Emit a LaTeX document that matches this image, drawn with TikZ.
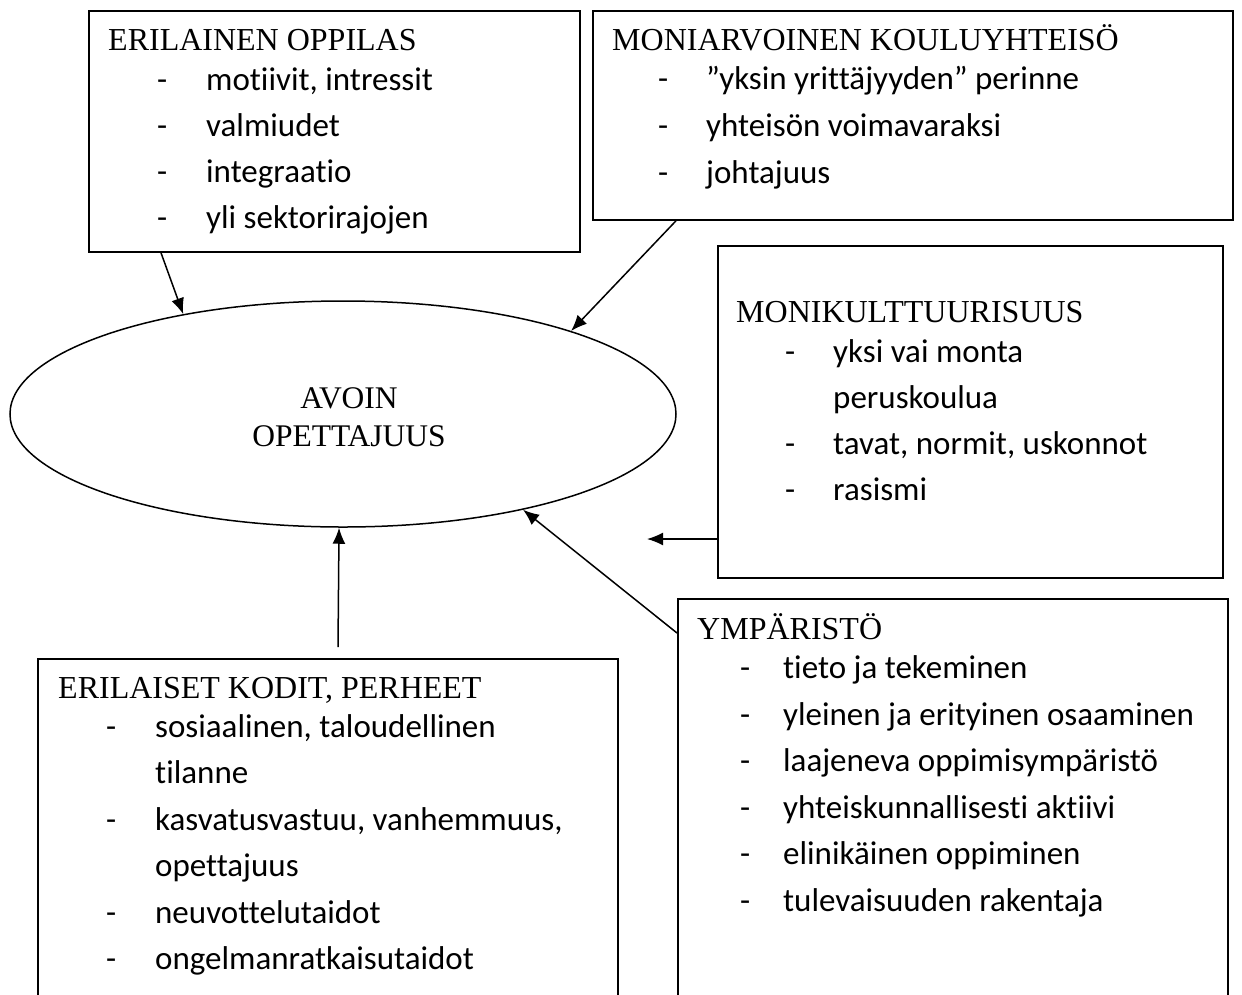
\documentclass[tikz,border=0pt]{standalone}
\usepackage{fontspec}
\setmainfont{Liberation Serif}
\newfontfamily\carlfont[Ligatures={NoCommon,NoRequired,NoContextual}]{Carlito}
\usetikzlibrary{shapes.geometric,arrows.meta,calc}
\begin{document}
\begin{tikzpicture}[x=1pt,y=-1pt,
  box/.style={draw, line width=1.8pt, inner sep=0pt, anchor=north west},
  ttl/.style={anchor=base west, inner sep=0pt, font=\fontsize{32}{38}\selectfont},
  ctl/.style={anchor=base, inner sep=0pt, font=\fontsize{31.5}{38}\selectfont},
  itm/.style={anchor=base west, inner sep=0pt, font=\carlfont\fontsize{33}{46}\selectfont},
  arr/.style={line width=1.5pt, -{Latex[length=16pt,width=13pt]}}]
\useasboundingbox (0,0) rectangle (1242,994);
\clip (0,0) rectangle (1242,994);
\fill[white] (0,0) rectangle (1242,994);

% boxes
\node[box, minimum width=491pt, minimum height=241pt] (b1) at (88,10) {};
\node[box, minimum width=640pt, minimum height=209pt] (b2) at (592,10) {};
\node[box, minimum width=505pt, minimum height=332pt] (b3) at (717,245) {};
\node[box, minimum width=580pt, minimum height=420pt] (b4) at (37,658) {};
\node[box, minimum width=550pt, minimum height=460pt] (b5) at (677,598) {};

% ellipse
\node[ellipse, draw, line width=1.5pt, inner sep=0pt, minimum width=666pt, minimum height=226pt] (ell) at (343,414) {};
\node[ctl] (e1) at (349,408) {AVOIN};
\node[ctl] (e2) at (349,446) {OPETTAJUUS};

% box 1
\node[ttl] (t1) at (108,50) {ERILAINEN OPPILAS};
\node[itm] (i1a) at (157,90) {\makebox[49pt][l]{-}motiivit, intressit};
\node[itm] (i1b) at (157,136) {\makebox[49pt][l]{-}valmiudet};
\node[itm] (i1c) at (157,182) {\makebox[49pt][l]{-}integraatio};
\node[itm] (i1d) at (157,228) {\makebox[49pt][l]{-}yli sektorirajojen};

% box 2
\node[ttl] (t2) at (612,50) {MONIARVOINEN KOULUYHTEISÖ};
\node[itm] (i2a) at (658,89) {\makebox[48pt][l]{-}”yksin yrittäjyyden” perinne};
\node[itm] (i2b) at (658,136) {\makebox[48pt][l]{-}yhteisön voimavaraksi};
\node[itm] (i2c) at (658,183) {\makebox[48pt][l]{-}johtajuus};

% box 3
\node[ttl] (t3) at (736,322) {MONIKULTTUURISUUS};
\node[itm] (i3a) at (785,362) {\makebox[48pt][l]{-}yksi vai monta};
\node[itm] (i3b) at (833,408) {peruskoulua};
\node[itm] (i3c) at (785,454) {\makebox[48pt][l]{-}tavat, normit, uskonnot};
\node[itm] (i3d) at (785,500) {\makebox[48pt][l]{-}rasismi};

% box 4
\node[ttl] (t4) at (58,698) {ERILAISET KODIT, PERHEET};
\node[itm] (i4a) at (106,737) {\makebox[49pt][l]{-}sosiaalinen, taloudellinen};
\node[itm] (i4b) at (155,783) {tilanne};
\node[itm] (i4c) at (106,830) {\makebox[49pt][l]{-}kasvatusvastuu, vanhemmuus,};
\node[itm] (i4d) at (155,876) {opettajuus};
\node[itm] (i4e) at (106,923) {\makebox[49pt][l]{-}neuvottelutaidot};
\node[itm] (i4f) at (106,969) {\makebox[49pt][l]{-}ongelmanratkaisutaidot};

% box 5
\node[ttl] (t5) at (697,639) {YMPÄRISTÖ};
\node[itm] (i5a) at (740,678) {\makebox[43pt][l]{-}tieto ja tekeminen};
\node[itm] (i5b) at (740,725) {\makebox[43pt][l]{-}yleinen ja erityinen osaaminen};
\node[itm] (i5c) at (740,771) {\makebox[43pt][l]{-}laajeneva oppimisympäristö};
\node[itm] (i5d) at (740,818) {\makebox[43pt][l]{-}yhteiskunnallisesti aktiivi};
\node[itm] (i5e) at (740,864) {\makebox[43pt][l]{-}elinikäinen oppiminen};
\node[itm] (i5f) at (740,911) {\makebox[43pt][l]{-}tulevaisuuden rakentaja};

% connectors
\coordinate (a3e) at (647,539);
\coordinate (a5s) at (338,647);
\draw[arr] ($(b1.south west)+(73,0)$) -- (ell.148);
\draw[arr] ($(b2.south west)+(84,0)$) -- (ell.20);
\draw[arr] (b3.west |- a3e) -- (a3e);
\draw[arr] ($(b5.north west)+(0,35)$) -- (ell.332);
\draw[arr] (a5s) -- (ell.268);
\end{tikzpicture}
\end{document}
